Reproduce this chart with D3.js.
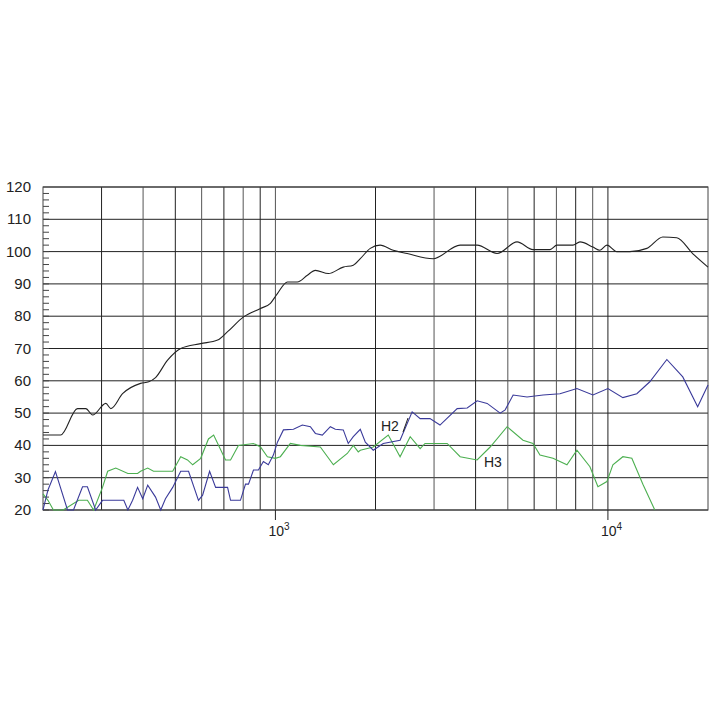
<!DOCTYPE html><html><head><meta charset="utf-8">
<script src="https://cdn.jsdelivr.net/npm/d3@7"></script>
<style>body{margin:0;background:#fff}</style></head><body><svg id="c" width="720" height="720"></svg>
<script>
const yTicks=[20,30,40,50,60,70,80,90,100,110,120];
const xGrid=[300,400,500,600,700,800,900,1000,2000,3000,4000,5000,6000,7000,8000,9000,10000];
const xLabels=[{f:1000,t:"3"},{f:10000,t:"4"}];
const mainF=[200,226,254,269,282,309,320,347,393,416,436,474,519,596,670,718,802,902,966,1014,1087,1164,1248,1319,1443,1600,1715,1800,1929,2065,2261,2490,2979,3594,4043,4641,5330,5953,6697,7027,7848,8241,9016,9464,9931,10641,11643,13097,14629,16112,17983,20000];
const mainV=[43.2,43.2,51.4,51.4,49.4,53,51.4,56,59.2,59.7,61,66.4,70,71.5,72.6,75.2,79.8,82.4,84,87,90.6,90.6,92.7,94.2,93.2,95.2,95.8,97.8,101,102,100.4,99.4,97.8,102,102,99.4,103,100.6,100.6,102,102,103,101.4,100.4,102,100,100,101,104.5,104.3,99.4,95.2];
const h2F=[200,207,218,237,247,263,272,288,302,350,360,372,385,399,413,436,452,467,491,519,548,587,604,634,661,718,733,785,813,830,859,889,920,952,986,1014,1057,1133,1205,1274,1319,1384,1463,1514,1600,1656,1715,1800,1864,1969,2110,2371,2578,2725,2917,3126,3521,3774,4043,4333,4742,4909,5187,5711,6383,7175,8068,9016,10000,11093,12217,13366,15040,16796,18620,20000];
const h2V=[20,26.2,31.9,20,20,27.2,27.2,20,23,23,20,23,27,23.5,27.7,24,20,23.5,27,32,32,23,24.6,32,27,27,23,23,28,28,32.4,32.4,35,34,37,41,44.8,45,46.3,45.8,43.7,43.2,45.8,45,44.8,40.6,42.7,45,41,38.5,40.6,41.6,50.4,48.3,48.3,46.3,51.4,51.6,53.8,53,50,51,55.6,55,55.6,56,57.6,55.6,57.6,54.8,56,59.7,66.6,61.2,52,58.7];
const h3F=[200,207,215,230,256,272,284,302,313,331,360,385,393,413,430,491,519,544,564,596,629,652,708,733,774,859,902,946,1000,1035,1109,1189,1365,1494,1645,1715,1775,1800,1969,2185,2371,2543,2725,2818,3285,3594,4043,4425,4976,5555,5953,6247,6837,7530,8068,8830,9333,9931,10351,11093,11803,12741,13837];
const h3V=[25,23,20,20,23,23,20,27,32,33,31.3,31.3,32,33,32,32,36.5,35.5,34,36,42,43.2,35.5,35.5,40,40.6,39.5,36.5,36,36.5,40.6,40,39.5,34,37.5,40,38,38.5,39.5,43.2,36.5,42.7,39,40.6,40.6,36.5,35.5,39.5,45.8,41.6,40.6,37,36,34,38.5,33.4,27.2,28.8,34,36.5,36,28,20];

const svg=d3.select("#c");
const L=43,R=708,T=187,B=510;
const x=d3.scaleLog().domain([200,20000]).range([L,R]);
const y=d3.scaleLinear().domain([20,120]).range([B,T]);
const g=svg.append("g");
g.selectAll(".h").data(yTicks).join("line").attr("x1",L).attr("x2",R).attr("y1",d=>y(d)).attr("y2",d=>y(d)).attr("stroke","#222").attr("stroke-width",1);
g.selectAll(".v").data(xGrid).join("line").attr("x1",d=>x(d)).attr("x2",d=>x(d)).attr("y1",T).attr("y2",B).attr("stroke",(d,i)=>i%2?"#555":"#222").attr("stroke-width",1);
g.append("rect").attr("x",L).attr("y",T).attr("width",R-L).attr("height",B-T).attr("fill","none").attr("stroke","#444");
g.selectAll(".m").data(d3.range(20,120,2)).join("line").attr("x1",L).attr("x2",L+6).attr("y1",d=>y(d)).attr("y2",d=>y(d)).attr("stroke","#444");
g.selectAll(".xt").data(xLabels).join("line").attr("x1",d=>x(d.f)).attr("x2",d=>x(d.f)).attr("y1",B).attr("y2",B+10).attr("stroke","#222");
svg.selectAll(".yl").data(yTicks).join("text").attr("x",31).attr("y",d=>y(d)+5).attr("text-anchor","end").attr("font-family","Liberation Sans, Arial").attr("font-size",15).attr("fill","#222").text(d=>d);
const xl=svg.selectAll(".xl").data(xLabels).join("text").attr("x",d=>x(d.f)-7).attr("y",B+26).attr("font-family","Liberation Sans, Arial").attr("font-size",14).attr("fill","#222");
xl.append("tspan").text("10");
xl.append("tspan").attr("dy",-6).attr("font-size",10).text(d=>d.t);
function draw(F,V,c,curve){const line=d3.line().x(d=>x(d[0])).y(d=>y(d[1])).curve(curve);svg.append("path").datum(F.map((f,i)=>[f,V[i]])).attr("d",line).attr("fill","none").attr("stroke",c).attr("stroke-width",1.1);}
draw(h3F,h3V,"#4caf50",d3.curveLinear);
draw(h2F,h2V,"#3a3a9a",d3.curveLinear);
draw(mainF,mainV,"#222",d3.curveMonotoneX);
svg.append("text").attr("x",381).attr("y",431).attr("font-family","Liberation Sans, Arial").attr("font-size",14).attr("fill","#222").text("H2");
svg.append("line").attr("x1",403).attr("y1",432).attr("x2",408).attr("y2",418).attr("stroke","#222");
svg.append("text").attr("x",484).attr("y",467).attr("font-family","Liberation Sans, Arial").attr("font-size",14).attr("fill","#222").text("H3");
</script></body></html>
